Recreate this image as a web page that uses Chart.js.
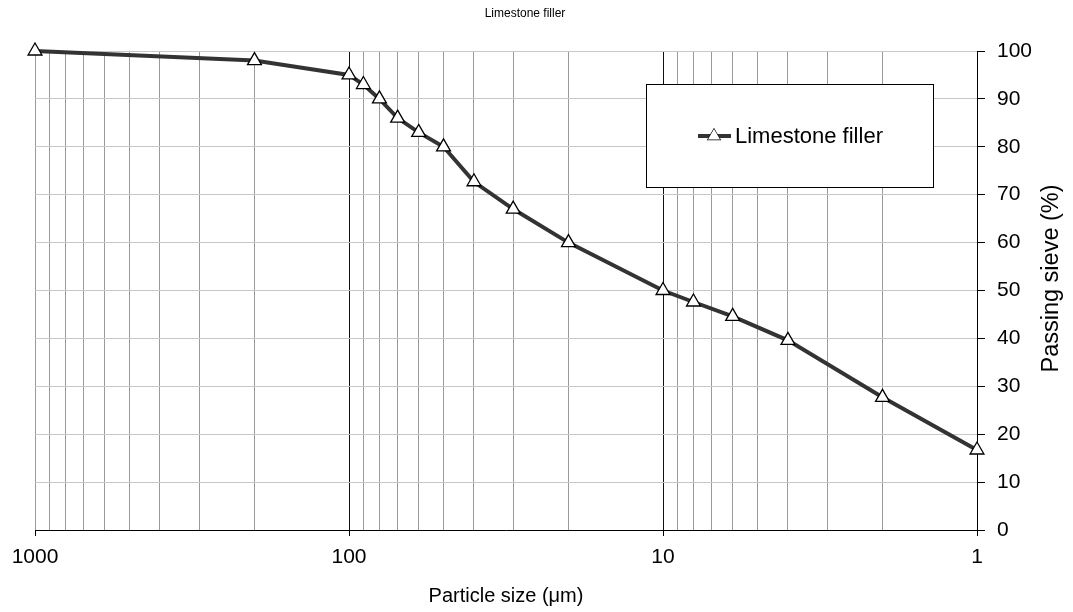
<!DOCTYPE html>
<html>
<head>
<meta charset="utf-8">
<script src="https://cdn.jsdelivr.net/npm/chart.js@4.4.1/dist/chart.umd.min.js"></script>
<style>
  body { margin: 0; background: #fff; }
  #wrap { width: 1073px; height: 612px; }
</style>
</head>
<body>
<div id="wrap"><canvas id="sieve-chart" width="1073" height="612"></canvas></div>
<script>
const chartTitle = 'Limestone filler';
const seriesLabel = 'Limestone filler';
const xTitle = 'Particle size (\u03bcm)';
const yTitle = 'Passing sieve (%)';

// particle size (um) and passing (%)
const sizes = [1000, 200, 100, 90, 80, 70, 60, 50, 40, 30, 20, 10, 8, 6, 4, 2, 1];
const passing = [100, 98, 95, 93, 90, 86, 83, 80, 72.7, 67, 60, 50, 47.6, 44.6, 39.6, 27.7, 16.7];

const xLabels = [1000, 100, 10, 1];

const FONT = "'Liberation Sans', Arial, sans-serif";
Chart.defaults.font.family = FONT;
Chart.defaults.color = '#000';

const isDecade = (v) => xLabels.includes(Math.round(v));

// title, legend box inside the plot, and a bottom-to-top y title
const extrasPlugin = {
    id: 'extras',
    afterDraw(chart) {
        const ctx = chart.ctx;
        ctx.save();

        ctx.fillStyle = '#000';
        ctx.font = '12px ' + FONT;
        ctx.textAlign = 'center';
        ctx.textBaseline = 'middle';
        ctx.fillText(chartTitle, 525, 14);

        // legend
        ctx.fillStyle = '#fff';
        ctx.strokeStyle = '#000';
        ctx.lineWidth = 1;
        ctx.fillRect(646, 84, 287, 103);
        ctx.strokeRect(646.5, 84.5, 287, 103);

        const ly = 136;
        ctx.strokeStyle = '#333';
        ctx.lineWidth = 4;
        ctx.beginPath();
        ctx.moveTo(698, ly);
        ctx.lineTo(731, ly);
        ctx.stroke();
        ctx.fillStyle = '#fff';
        ctx.strokeStyle = '#000';
        ctx.lineWidth = 1.3;
        Chart.helpers.drawPoint(ctx, { pointStyle: 'triangle', radius: 7, rotation: 0, borderWidth: 1.3 }, 714, ly);
        ctx.fill();

        ctx.fillStyle = '#000';
        ctx.font = '22px ' + FONT;
        ctx.textAlign = 'left';
        ctx.textBaseline = 'middle';
        ctx.fillText(seriesLabel, 735, ly + 1);

        // y axis title
        const yScale = chart.scales.y;
        ctx.translate(1052, (yScale.top + yScale.bottom) / 2 - 12);
        ctx.rotate(-Math.PI / 2);
        ctx.font = '23.5px ' + FONT;
        ctx.textAlign = 'center';
        ctx.fillText(yTitle, 0, 0);
        ctx.restore();
    }
};

const ctx = document.getElementById('sieve-chart').getContext('2d');

new Chart(ctx, {
    type: 'line',
    data: {
        datasets: [{
            label: seriesLabel,
            data: sizes.map((s, i) => ({ x: s, y: passing[i] })),
            borderColor: '#333',
            borderWidth: 4,
            tension: 0,
            pointStyle: 'triangle',
            pointRadius: 8,
            pointBackgroundColor: '#fff',
            pointBorderColor: '#000',
            pointBorderWidth: 1.3,
            clip: false
        }]
    },
    options: {
        responsive: false,
        animation: false,
        layout: { padding: { left: 35, right: 0, top: 51, bottom: 0 } },
        plugins: {
            legend: { display: false },
            tooltip: { enabled: false },
            title: { display: false }
        },
        scales: {
            x: {
                type: 'logarithmic',
                reverse: true,
                min: 1,
                max: 1000,
                afterBuildTicks(scale) {
                    // drop the 15 / 150 ticks, keep 1..9 per decade
                    scale.ticks = scale.ticks.filter(t => {
                        const m = t.value / Math.pow(10, Math.floor(Math.log10(t.value) + 1e-9));
                        return Math.abs(m - Math.round(m)) < 1e-6;
                    });
                },
                afterFit(scale) { scale.height = 82; },
                ticks: {
                    autoSkip: false,
                    maxRotation: 0,
                    padding: 9,
                    font: { size: 21 },
                    callback: (v) => isDecade(v) ? String(Math.round(v)) : ''
                },
                grid: {
                    color: (c) => (c.tick && isDecade(c.tick.value) && c.tick.value !== 1000) ? '#111' : '#999',
                    lineWidth: 1,
                    tickLength: 6,
                    tickColor: (c) => (c.tick && isDecade(c.tick.value)) ? '#000' : 'rgba(0,0,0,0)'
                },
                border: { color: '#000', width: 1 },
                title: {
                    display: true,
                    text: xTitle,
                    font: { size: 20 },
                    padding: { top: 0, bottom: 4 }
                }
            },
            y: {
                position: 'right',
                min: 0,
                max: 100,
                afterFit(scale) { scale.width = 96; },
                ticks: {
                    stepSize: 10,
                    padding: 12,
                    font: { size: 21 }
                },
                grid: {
                    color: '#c8c8c8',
                    lineWidth: 1,
                    tickLength: 8,
                    tickColor: '#000'
                },
                border: { color: '#000', width: 1 }
            }
        }
    },
    plugins: [extrasPlugin]
});
</script>
</body>
</html>
